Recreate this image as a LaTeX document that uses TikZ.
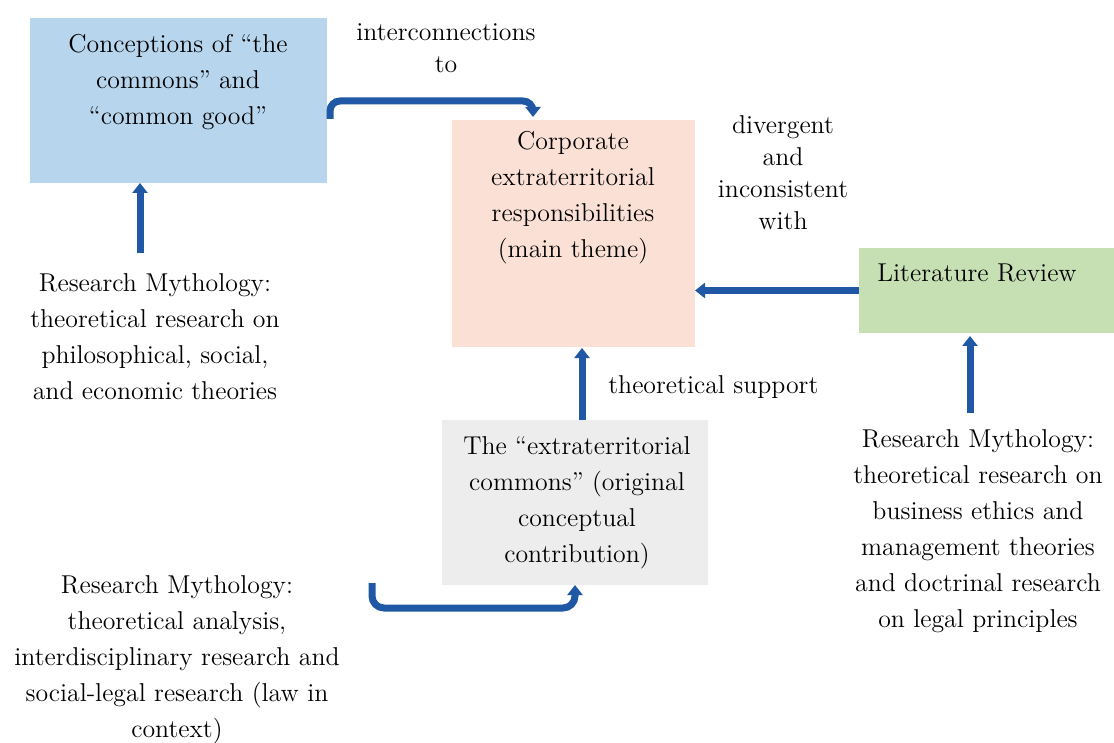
\documentclass[tikz,border=0pt]{standalone}
\usepackage{tikz}
\usetikzlibrary{arrows.meta,calc}

\definecolor{boxblue}{RGB}{183,213,237}
\definecolor{boxsalmon}{RGB}{251,225,213}
\definecolor{boxgreen}{RGB}{198,224,180}
\definecolor{boxgray}{RGB}{237,237,237}
\definecolor{arrowblue}{RGB}{32,88,165}

\begin{document}
\begin{tikzpicture}[x=0.5pt,y=-0.5pt,
  panel/.style={inner sep=0pt, outer sep=0pt},
  txt/.style={align=center, inner sep=0pt, font=\fontsize{12.9}{18}\selectfont},
  lbl/.style={align=center, inner sep=0pt, font=\fontsize{12.9}{16}\selectfont},
  flow/.style={draw=arrowblue, line width=3.5pt, -{Triangle[length=5pt,width=7.5pt]}}]
\useasboundingbox (0,0) rectangle (1114,743);

% boxes
\node [panel, fill=boxblue, minimum width=148.5pt, minimum height=82.5pt] (commons) at (178.5,100.5) {};
\node [panel, fill=boxsalmon, minimum width=121.5pt, minimum height=113.5pt] (theme) at (573.5,233.5) {};
\node [panel, fill=boxgreen, minimum width=127.5pt, minimum height=42.5pt] (litrev) at (986.5,290.5) {};
\node [panel, fill=boxgray, minimum width=133pt, minimum height=82.5pt] (extra) at (575,502.5) {};

% box texts
\node [txt] (commonsT) at (178,82) {Conceptions of ``the\\commons'' and\\``common good''};
\node [txt] (themeT) at (573,198) {Corporate\\extraterritorial\\responsibilities\\(main theme)};
\node [txt, anchor=west] (litrevT) at (877,273) {Literature Review};
\node [txt] (extraT) at (577,503) {The ``extraterritorial\\commons'' (original\\conceptual\\contribution)};

% free texts
\node [lbl] (inter) at (446,48) {interconnections\\to};
\node [lbl] (diverg) at (783,173) {divergent\\and\\inconsistent\\with};
\node [txt, anchor=west] (support) at (608,387) {theoretical support};
\node [txt] (leftRM) at (155,337) {Research Mythology:\\theoretical research on\\philosophical, social,\\and economic theories};
\node [txt] (bottomRM) at (177,660) {Research Mythology:\\theoretical analysis,\\interdisciplinary research and\\social-legal research (law in\\context)};
\node [txt] (rightRM) at (978,531) {Research Mythology:\\theoretical research on\\business ethics and\\management theories\\and doctrinal research\\on legal principles};

% connectors
\coordinate (topstart) at (330,119);
\coordinate (topend) at (533,117);
\coordinate (leftstart) at (140,253);
\coordinate (supx) at (582,0);
\coordinate (rightstart) at (970,413);
\coordinate (botstart) at (372,583);

\draw [flow, rounded corners=5pt] (topstart) |- ($(topend)+(0,-16)$) -- (topend);
\draw [flow] (leftstart) -- (leftstart |- commons.south);
\draw [flow] (extra.north -| supx) -- ($(theme.south -| supx)+(0,1)$);
\draw [flow] (litrev.west) -- (litrev.west -| theme.east);
\draw [flow] (rightstart) -- ($(rightstart |- litrev.south)+(0,3)$);
\draw [flow, rounded corners=6pt] (botstart) -- ++(0,25) -| (extra.south);
\end{tikzpicture}
\end{document}
